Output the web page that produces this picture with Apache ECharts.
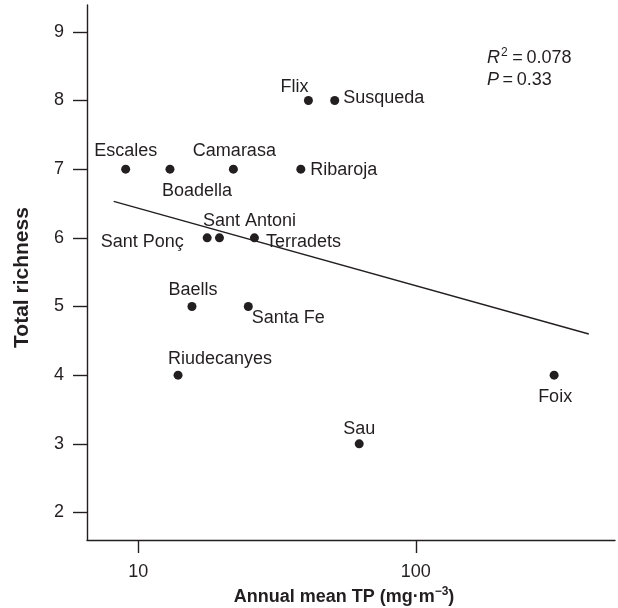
<!DOCTYPE html>
<html>
<head>
<meta charset="utf-8">
<script src="https://cdn.jsdelivr.net/npm/echarts@6/dist/echarts.min.js"></script>
<style>
  html, body { margin: 0; padding: 0; background: #fff; }
  #chart { width: 618px; height: 608px; }
</style>
</head>
<body>
<div id="chart"></div>
<script>
// ---- data ----
const reservoirs = ['Escales', 'Boadella', 'Camarasa', 'Ribaroja', 'Flix', 'Susqueda',
  'Sant Ponç', 'Sant Antoni', 'Terradets', 'Baells', 'Santa Fe', 'Riudecanyes', 'Sau', 'Foix'];
const annualMeanTP = [9.0, 13.0, 22.0, 38.5, 41.0, 51.0, 17.7, 19.6, 26.2, 15.6, 24.9, 13.9, 62.5, 315];
const totalRichness = [7, 7, 7, 7, 8, 8, 6, 6, 6, 5, 5, 4, 3, 4];
const fitLineTP = [8.15, 420];
const fitLineRichness = [6.53, 4.60];
const xTickValues = [10, 100];
const yTickValues = [2, 3, 4, 5, 6, 7, 8, 9];
const statsR2 = '0.078';
const statsP = '0.33';

// ---- label placement (style only) ----
const labelOffsets = {
  'Escales': [0, -18], 'Boadella': [27, 22], 'Camarasa': [1, -18], 'Ribaroja': [43, 1],
  'Flix': [-14, -13], 'Susqueda': [49, -2], 'Sant Ponç': [-65, 4], 'Sant Antoni': [30, -17],
  'Terradets': [49, 4], 'Baells': [1, -16], 'Santa Fe': [40, 12], 'Riudecanyes': [42, -16],
  'Sau': [0, -15], 'Foix': [1, 22]
};

const INK = '#231f20';
const FONT = '"Liberation Sans", Arial, Helvetica, sans-serif';

const scatterData = reservoirs.map((name, i) => ({
  name: name,
  value: [annualMeanTP[i], totalRichness[i]],
  label: { offset: labelOffsets[name] }
}));

const chart = echarts.init(document.getElementById('chart'), null, { renderer: 'canvas' });
chart.setOption({
  animation: false,
  backgroundColor: '#fff',
  textStyle: { fontFamily: FONT, color: INK },
  grid: { left: 87, right: 3, top: 5, bottom: 68, containLabel: false, outerBoundsMode: 'none' },
  xAxis: {
    type: 'log',
    logBase: 10,
    min: 6.53,
    max: 522,
    name: 'Annual mean TP (mg·m{sup|−3})',
    nameLocation: 'middle',
    nameGap: 46,
    nameTextStyle: {
      fontFamily: FONT, fontWeight: 'bold', fontSize: 18, color: INK,
      padding: [0, 14, 0, 0],
      rich: { sup: { fontFamily: FONT, fontWeight: 'bold', fontSize: 12, color: INK, padding: [0, 0, 11, 0] } }
    },
    axisLine: { show: true, onZero: false, lineStyle: { color: INK, width: 1.4 } },
    axisTick: { show: true, inside: false, length: 13, customValues: xTickValues, lineStyle: { color: INK, width: 1.4 } },
    axisLabel: { show: true, margin: 23, customValues: xTickValues, fontFamily: FONT, fontSize: 18, color: INK,
      formatter: v => String(Math.round(v)) },
    splitLine: { show: false },
    minorTick: { show: false }
  },
  yAxis: {
    type: 'value',
    min: 1.6,
    max: 9.39,
    name: 'Total richness',
    nameLocation: 'middle',
    nameGap: 54,
    nameRotate: 90,
    nameTextStyle: { fontFamily: FONT, fontWeight: 'bold', fontSize: 21, color: INK, padding: [0, 10, 0, 0] },
    axisLine: { show: true, onZero: false, lineStyle: { color: INK, width: 1.4 } },
    axisTick: { show: true, inside: false, length: 14, customValues: yTickValues, lineStyle: { color: INK, width: 1.4 } },
    axisLabel: { show: true, margin: 23, customValues: yTickValues, fontFamily: FONT, fontSize: 18, color: INK },
    splitLine: { show: false }
  },
  series: [
    {
      type: 'line',
      data: fitLineTP.map((x, i) => [x, fitLineRichness[i]]),
      symbol: 'none',
      lineStyle: { color: INK, width: 1.4 },
      silent: true,
      z: 1
    },
    {
      type: 'scatter',
      data: scatterData,
      symbol: 'circle',
      symbolSize: 9,
      itemStyle: { color: INK, opacity: 1 },
      label: {
        show: true,
        position: 'inside',
        align: 'center',
        verticalAlign: 'middle',
        formatter: p => p.name,
        fontFamily: FONT,
        fontSize: 18,
        color: INK,
        opacity: 1
      },
      z: 2
    }
  ],
  graphic: [
    {
      type: 'text',
      left: 487,
      top: 47,
      style: {
        text: '{i|R}{sup|2}{n|\u2009=\u2009' + statsR2 + '}\n{i|P}{n|\u2009=\u2009' + statsP + '}',
        font: '18px ' + FONT,
        fill: INK,
        lineHeight: 22,
        rich: {
          i: { fontFamily: FONT, fontSize: 18, fontStyle: 'italic', fill: INK, lineHeight: 22 },
          sup: { fontFamily: FONT, fontSize: 12, fill: INK, padding: [0, 1, 10, 1], lineHeight: 22 },
          n: { fontFamily: FONT, fontSize: 18, fill: INK, lineHeight: 22 }
        }
      }
    }
  ]
});
</script>
</body>
</html>
